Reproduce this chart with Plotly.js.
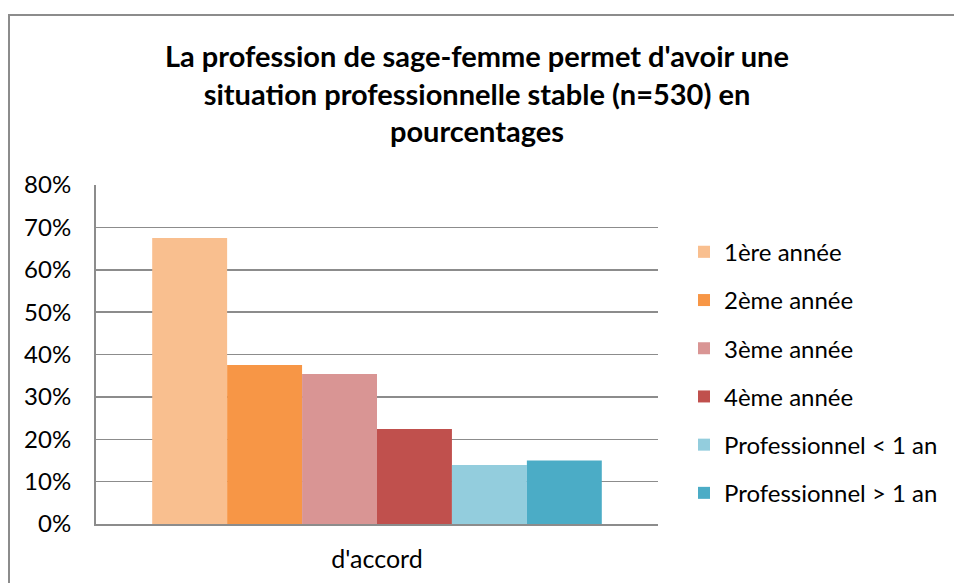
<!DOCTYPE html>
<html>
<head>
<meta charset="utf-8">
<script src="https://cdn.plot.ly/plotly-3.0.1.min.js"></script>
<style>
  html, body { margin: 0; padding: 0; background: #fff; overflow: hidden; }
  #chart { width: 954px; height: 583px; position: absolute; left: 0; top: 0; }
  #frame { position: absolute; left: 8px; top: 14px; width: 960px; height: 600px;
           border-left: 2px solid #8c8c8c; border-top: 2px solid #8c8c8c; pointer-events: none; }
</style>
</head>
<body>
<div id="chart"></div>
<div id="frame"></div>
<script>
const categories = ["d'accord"];
const seriesNames = ["1ère année", "2ème année", "3ème année", "4ème année", "Professionnel < 1 an", "Professionnel > 1 an"];
const seriesValues = [0.675, 0.375, 0.354, 0.224, 0.139, 0.150];
const seriesColors = ["#F9BF8F", "#F79646", "#D99594", "#C0504D", "#93CDDD", "#4BACC6"];
const yTickValues = [0, 0.1, 0.2, 0.3, 0.4, 0.5, 0.6, 0.7, 0.8];
const yTickLabels = ["0%", "10%", "20%", "30%", "40%", "50%", "60%", "70%", "80%"];
const titleText = "La profession de sage-femme permet d'avoir une<br>situation professionnelle stable (n=530) en<br>pourcentages";

const FONT = "Lato, 'Open Sans', sans-serif";

const traces = seriesNames.map((name, i) => ({
  type: 'bar',
  name: name,
  x: categories,
  y: [seriesValues[i]],
  legendgroup: 'g' + i,
  marker: { color: seriesColors[i], line: { width: 0 } },
  hoverinfo: 'none'
}));

const layout = {
  width: 954,
  height: 583,
  paper_bgcolor: '#ffffff',
  plot_bgcolor: '#ffffff',
  margin: { l: 96, r: 295, t: 185, b: 59, pad: 0 },
  barmode: 'group',
  bargap: 0.2,
  bargroupgap: 0,
  showlegend: true,
  title: {
    text: titleText,
    font: { family: FONT, size: 29, color: '#000000', weight: 'bold' },
    x: 0.5, xref: 'container', xanchor: 'center',
    y: 1 - 67 / 583, yref: 'container', yanchor: 'top'
  },
  xaxis: {
    type: 'category',
    showgrid: false,
    showline: true,
    linecolor: '#8c8c8c',
    linewidth: 2,
    ticks: '',
    tickfont: { family: FONT, size: 25, color: '#000000' },
    ticklabelstandoff: 12,
    zeroline: false,
    fixedrange: true
  },
  yaxis: {
    range: [0, 0.8],
    tickvals: yTickValues,
    ticktext: yTickLabels,
    showgrid: true,
    gridcolor: '#8c8c8c',
    gridwidth: 1.5,
    showline: true,
    linecolor: '#8c8c8c',
    linewidth: 2,
    ticks: '',
    tickfont: { family: FONT, size: 24, color: '#000000' },
    ticklabelstandoff: 18,
    zeroline: false,
    fixedrange: true
  },
  legend: {
    x: (684 - 96) / 563,
    xanchor: 'left',
    y: 0.868,
    yanchor: 'top',
    font: { family: FONT, size: 24, color: '#000000' },
    tracegroupgap: 14,
    itemwidth: 30,
    bgcolor: 'rgba(0,0,0,0)'
  }
};

Plotly.newPlot('chart', traces, layout, { displayModeBar: false, staticPlot: true });
</script>
</body>
</html>
